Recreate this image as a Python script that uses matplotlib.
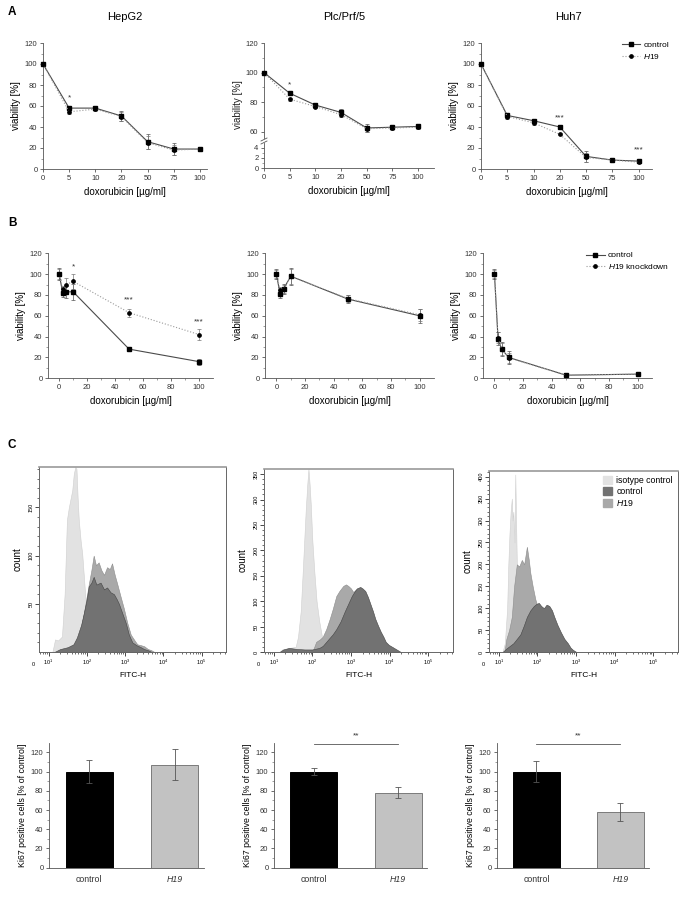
import numpy as np
import matplotlib
matplotlib.use("Agg")
import matplotlib.pyplot as plt
from matplotlib.patches import Patch
from matplotlib.lines import Line2D

plt.rcParams['font.family'] = ['Liberation Sans', 'DejaVu Sans']
plt.rcParams['mathtext.fontset'] = 'custom'
plt.rcParams['mathtext.rm'] = 'Liberation Sans'
plt.rcParams['mathtext.it'] = 'Liberation Sans:italic'
plt.rcParams['axes.linewidth'] = 0.6

# ---- A: viability, H19 overexpression (categorical doses) ----
conc_a = ['0', '5', '10', '20', '50', '75', '100']
hep_ctrl = [100, 58, 58, 50.5, 26, 19, 19]
hep_ctrl_err = [0.5, 2, 2, 5, 7, 6, 1]
hep_h19 = [100, 54.5, 57, 50, 25, 18, 19]
hep_h19_err = [0.5, 2, 2, 4, 6, 5, 1]

plc_ctrl = [100, 86, 78, 73, 62.5, 63, 63.5]
plc_ctrl_err = [0.5, 1, 1.5, 2, 2.5, 1.5, 1.5]
plc_h19 = [100, 82, 77, 71.5, 62, 62.5, 63]
plc_h19_err = [0.5, 1, 1, 1.5, 2, 1.5, 1.5]

huh_ctrl = [100, 51, 46, 40, 12, 8.5, 7.5]
huh_ctrl_err = [0.5, 2, 2, 1, 5, 1, 1.5]
huh_h19 = [100, 50, 44, 33, 11, 8.5, 6.5]
huh_h19_err = [0.5, 2, 2, 1, 4, 1, 1]

# ---- B: viability, H19 knockdown ----
conc_b = [0, 2.5, 5, 10, 50, 100]
hepb_ctrl = [100, 82, 83, 83, 28, 16]
hepb_ctrl_err = [6, 4, 6, 8, 1, 3]
hepb_kd = [100, 86, 90, 93, 63, 42]
hepb_kd_err = [5, 3, 6, 7, 4, 5]

plcb_ctrl = [100, 81, 86, 98, 76, 60]
plcb_ctrl_err = [5, 4, 5, 8, 4, 7]
plcb_kd = [100, 85, 86, 98, 76.5, 61]
plcb_kd_err = [4, 3, 4, 7, 3, 6]

huhb_ctrl = [100, 38, 28, 20, 3, 4]
huhb_ctrl_err = [5, 6, 7, 6, 1, 1]
huhb_kd = [100, 39, 28, 19.5, 3, 4]
huhb_kd_err = [4, 5, 6, 5, 1, 1]

# ---- C: FITC-H histograms (x = log10 intensity, y = count) ----
h1_iso_x = [1.10, 1.17, 1.25, 1.35, 1.42, 1.48, 1.53, 1.57, 1.62, 1.66, 1.70, 1.73, 1.76, 1.79, 1.84, 1.88, 1.92, 1.96, 2.03, 2.10, 2.18, 2.27]
h1_iso_y = [0, 13, 12, 16, 60, 137, 150, 158, 168, 185, 192, 190, 160, 137, 115, 102, 80, 58, 38, 20, 8, 0]
h1_h19_x = [1.70, 1.80, 1.92, 2.00, 2.05, 2.12, 2.18, 2.24, 2.31, 2.38, 2.45, 2.53, 2.60, 2.66, 2.73, 2.80, 2.88, 2.97, 3.06, 3.15, 3.25, 3.32, 3.42, 3.50, 3.60, 3.68, 3.77]
h1_h19_y = [0, 15, 40, 58, 70, 85, 100, 90, 93, 85, 80, 88, 86, 92, 80, 70, 58, 45, 30, 18, 12, 8, 7, 6, 3, 2, 0]
h1_ctl_x = [1.15, 1.30, 1.50, 1.65, 1.74, 1.85, 1.92, 2.00, 2.05, 2.12, 2.18, 2.25, 2.36, 2.45, 2.53, 2.62, 2.71, 2.78, 2.84, 2.93, 3.02, 3.10, 3.19, 3.30, 3.41, 3.50, 3.59, 3.70]
h1_ctl_y = [0, 3, 5, 8, 15, 28, 40, 55, 68, 72, 78, 70, 72, 65, 67, 62, 60, 55, 50, 40, 30, 18, 10, 7, 5, 3, 2, 0]

h2_iso_x = [1.15, 1.22, 1.40, 1.57, 1.63, 1.70, 1.76, 1.83, 1.87, 1.90, 1.93, 1.96, 2.00, 2.05, 2.11, 2.18, 2.25, 2.31, 2.38, 2.45, 2.52]
h2_iso_y = [0, 5, 8, 10, 30, 80, 170, 280, 330, 360, 330, 290, 220, 160, 100, 60, 30, 15, 8, 5, 0]
h2_h19_x = [2.00, 2.10, 2.20, 2.27, 2.36, 2.45, 2.53, 2.62, 2.70, 2.80, 2.87, 2.93, 3.00, 3.06, 3.12, 3.19, 3.26, 3.33, 3.42, 3.50, 3.60, 3.68, 3.77, 3.85, 3.95, 4.03, 4.12, 4.20]
h2_h19_y = [0, 20, 25, 30, 45, 65, 85, 110, 120, 130, 133, 130, 125, 118, 122, 125, 110, 95, 78, 60, 45, 30, 20, 12, 8, 5, 3, 0]
h2_ctl_x = [1.15, 1.25, 1.40, 1.60, 1.80, 2.00, 2.18, 2.27, 2.36, 2.45, 2.53, 2.62, 2.73, 2.84, 2.93, 3.02, 3.10, 3.15, 3.24, 3.30, 3.37, 3.44, 3.50, 3.57, 3.63, 3.70, 3.77, 3.84, 3.90, 3.98, 4.07, 4.18, 4.29]
h2_ctl_y = [0, 5, 8, 6, 5, 5, 8, 12, 20, 28, 35, 45, 60, 80, 95, 110, 120, 125, 128, 125, 120, 108, 95, 80, 65, 52, 40, 30, 20, 14, 10, 5, 0]

h3_iso_x = [1.10, 1.16, 1.19, 1.22, 1.25, 1.28, 1.31, 1.34, 1.36, 1.38, 1.41, 1.43, 1.45, 1.47, 1.51, 1.56, 1.60, 1.65, 1.72, 1.78, 1.85, 1.91]
h3_iso_y = [0, 20, 60, 100, 200, 270, 320, 350, 300, 320, 250, 405, 300, 200, 150, 100, 75, 50, 30, 15, 8, 0]
h3_h19_x = [1.15, 1.20, 1.27, 1.34, 1.40, 1.47, 1.53, 1.60, 1.66, 1.73, 1.78, 1.82, 1.88, 1.95, 2.02, 2.09, 2.17, 2.26, 2.35, 2.44, 2.52, 2.61, 2.75]
h3_h19_y = [0, 30, 50, 80, 150, 200, 195, 210, 200, 240, 210, 180, 150, 120, 100, 80, 60, 40, 25, 15, 10, 5, 0]
h3_ctl_x = [1.10, 1.20, 1.38, 1.56, 1.65, 1.73, 1.82, 1.91, 1.98, 2.04, 2.10, 2.17, 2.24, 2.31, 2.38, 2.44, 2.52, 2.61, 2.70, 2.79, 2.86, 2.92, 3.01]
h3_ctl_y = [0, 8, 20, 40, 60, 80, 95, 105, 110, 112, 105, 100, 108, 105, 95, 80, 62, 45, 30, 20, 10, 5, 0]

# ---- C: Ki67 bars ----
bar_labels = ['control', 'H19']
ki_hep = [100, 107]
ki_hep_err = [12, 16]
ki_plc = [100, 78]
ki_plc_err = [4, 6]
ki_huh = [100, 58]
ki_huh_err = [11, 9]

W, H = 683, 919
fig = plt.figure(figsize=(W / 100, H / 100), dpi=100)


def place(l, t, r, b):
    return fig.add_axes([l / W, 1 - b / H, (r - l) / W, (b - t) / H])


def origin_style(ax):
    for s in ['top', 'right']:
        ax.spines[s].set_visible(False)
    for s in ['left', 'bottom']:
        ax.spines[s].set_color('#555555')
    ax.tick_params(which='major', direction='out', length=2.5, width=0.5,
                   labelsize=5.5, colors='#333333', pad=1.5)
    ax.tick_params(which='minor', direction='out', length=1.5, width=0.4, colors='#555555')


def curves(ax, x, c, ce, t, te):
    ax.errorbar(x, c, yerr=ce, color='#4a4a4a', lw=0.8, ls='-', marker='s', ms=2.8,
                mfc='black', mec='black', ecolor='#555555', elinewidth=0.5,
                capsize=1.3, capthick=0.5, clip_on=False, zorder=3)
    ax.errorbar(x, t, yerr=te, color='#9a9a9a', lw=0.8, ls=':', marker='o', ms=2.4,
                mfc='black', mec='black', ecolor='#777777', elinewidth=0.5,
                capsize=1.3, capthick=0.5, clip_on=False, zorder=3)


def legend_lines(ax, second):
    h = [Line2D([], [], color='#4a4a4a', lw=0.8, marker='s', ms=2.8, mfc='black', mec='black'),
         Line2D([], [], color='#9a9a9a', lw=0.8, ls=':', marker='o', ms=2.4, mfc='black', mec='black')]
    ax.legend(h, ['control', second], loc='upper right', bbox_to_anchor=(1.12, 1.04),
              frameon=False, fontsize=6, handlelength=2.2, handletextpad=0.4,
              labelspacing=0.35, borderaxespad=0)


star_kw = dict(ha='center', va='center', fontsize=6, color='#333333')

# ---------- Row A ----------
idx = np.arange(len(conc_a))
a1 = place(43, 43, 207, 169)
curves(a1, idx, hep_ctrl, hep_ctrl_err, hep_h19, hep_h19_err)
a1.set_xlim(0, 6.27)
a1.set_ylim(0, 120)
a1.set_yticks(range(0, 121, 20))
a1.set_yticks(range(10, 120, 20), minor=True)
a1.set_xticks(idx, conc_a)
origin_style(a1)
a1.set_ylabel('viability [%]', fontsize=7, labelpad=3)
a1.set_xlabel('doxorubicin [µg/ml]', fontsize=7, labelpad=4)
a1.text(1, 68, '*', **star_kw)

# Plc/Prf/5 with broken y axis
a2t = place(264, 43, 434, 138)
a2b = place(264, 143, 434, 168.3)
for ax in (a2t, a2b):
    curves(ax, idx, plc_ctrl, plc_ctrl_err, plc_h19, plc_h19_err)
    ax.set_xlim(0, 6.62)
    origin_style(ax)
a2t.set_ylim(55.7, 120)
a2t.set_yticks(range(60, 121, 20))
a2t.set_yticks(range(70, 120, 20), minor=True)
a2t.spines['bottom'].set_visible(False)
a2t.tick_params(axis='x', which='both', bottom=False, labelbottom=False)
a2b.set_ylim(0, 4.9)
a2b.set_yticks([0, 2, 4])
a2b.set_yticks([1, 3], minor=True)
a2b.set_xticks(idx, conc_a)
for c in a2b.lines + a2b.collections:
    c.set_clip_on(True)
a2b.set_xlabel('doxorubicin [µg/ml]', fontsize=7, labelpad=4)
fig.text(238 / W, 1 - 105 / H, 'viability [%]', rotation=90, fontsize=7,
         ha='center', va='center', color='#222222')
for yb in (139.5, 142.5):
    fig.add_artist(Line2D([261 / W, 267 / W], [1 - (yb + 1.5) / H, 1 - (yb - 1.5) / H],
                          color='#555555', lw=0.6))
a2t.text(1, 91.5, '*', **star_kw)

a3 = place(481, 43, 652, 169)
curves(a3, idx, huh_ctrl, huh_ctrl_err, huh_h19, huh_h19_err)
a3.set_xlim(0, 6.51)
a3.set_ylim(0, 120)
a3.set_yticks(range(0, 121, 20))
a3.set_yticks(range(10, 120, 20), minor=True)
a3.set_xticks(idx, conc_a)
origin_style(a3)
a3.set_ylabel('viability [%]', fontsize=7, labelpad=3)
a3.set_xlabel('doxorubicin [µg/ml]', fontsize=7, labelpad=4)
a3.text(3, 49, '***', **star_kw)
a3.text(6, 18, '***', **star_kw)
legend_lines(a3, r'$\it{H19}$')

fig.text(125 / W, 1 - 17 / H, 'HepG2', fontsize=8, ha='center', va='center')
fig.text(344 / W, 1 - 17 / H, 'Plc/Prf/5', fontsize=8, ha='center', va='center')
fig.text(568 / W, 1 - 17 / H, 'Huh7', fontsize=8, ha='center', va='center')

# ---------- Row B ----------
b_boxes = [(48, 253.3, 213, 378.3), (265, 253.3, 434, 378.3), (483, 253.3, 652, 378.3)]
b_data = [(hepb_ctrl, hepb_ctrl_err, hepb_kd, hepb_kd_err),
          (plcb_ctrl, plcb_ctrl_err, plcb_kd, plcb_kd_err),
          (huhb_ctrl, huhb_ctrl_err, huhb_kd, huhb_kd_err)]
b_axes = []
for box, d in zip(b_boxes, b_data):
    ax = place(*box)
    curves(ax, conc_b, *d)
    ax.set_xlim(-8, 110)
    ax.set_ylim(0, 120)
    ax.set_xticks(range(0, 101, 20))
    ax.set_xticks(range(10, 101, 20), minor=True)
    ax.set_yticks(range(0, 121, 20))
    ax.set_yticks(range(10, 120, 20), minor=True)
    origin_style(ax)
    ax.set_ylabel('viability [%]', fontsize=7, labelpad=3)
    ax.set_xlabel('doxorubicin [µg/ml]', fontsize=7, labelpad=4)
    b_axes.append(ax)
b_axes[0].text(10, 107, '*', **star_kw)
b_axes[0].text(50, 75, '***', **star_kw)
b_axes[0].text(100, 54, '***', **star_kw)
legend_lines(b_axes[2], r'$\it{H19}$ knockdown')

# ---------- Row C: histograms ----------
iso_col, ctl_col, h19_col = '#e2e2e2', '#727272', '#a9a9a9'
h_boxes = [(39, 467, 226, 652), (264, 469, 453, 652), (489, 471, 678, 652)]
h_data = [((h1_iso_x, h1_iso_y), (h1_h19_x, h1_h19_y), (h1_ctl_x, h1_ctl_y)),
          ((h2_iso_x, h2_iso_y), (h2_h19_x, h2_h19_y), (h2_ctl_x, h2_ctl_y)),
          ((h3_iso_x, h3_iso_y), (h3_h19_x, h3_h19_y), (h3_ctl_x, h3_ctl_y))]
h_ylims = [192, 360, 413]
h_major = [(50, 100, 150), range(0, 351, 50), range(0, 401, 50)]
minor_x = [np.log10(k) + d for d in range(0, 6) for k in range(2, 10)]
for box, d, yl, maj in zip(h_boxes, h_data, h_ylims, h_major):
    ax = place(*box)
    (ix, iy), (hx, hy), (cx, cy) = d
    ax.fill_between(ix, iy, facecolor=iso_col, edgecolor='#cfcfcf', lw=0.4)
    ax.fill_between(hx, hy, facecolor=h19_col, edgecolor='#8c8c8c', lw=0.4)
    ax.fill_between(cx, cy, facecolor=ctl_col, edgecolor='#444444', lw=0.4)
    ax.set_xlim(0.75, 5.64)
    ax.set_ylim(0, yl)
    ax.set_xticks(range(1, 6), [r'$10^{%d}$' % k for k in range(1, 6)])
    ax.set_xticks([m for m in minor_x if 0.75 < m < 5.64], minor=True)
    ax.set_yticks(list(maj))
    ax.set_yticks(range(10, yl, 10), minor=True)
    for s in ax.spines.values():
        s.set_color('#666666')
        s.set_linewidth(0.7)
    ax.spines['top'].set_color('#999999')
    ax.spines['top'].set_linewidth(1.2)
    ax.tick_params(which='major', direction='out', length=3, width=0.5, labelsize=4, pad=1)
    ax.tick_params(which='minor', direction='out', length=1.5, width=0.4)
    for lab in ax.get_yticklabels():
        lab.set_rotation(90)
        lab.set_va('center')
    ax.set_ylabel('count', fontsize=7, labelpad=4)
    ax.set_xlabel('FITC-H', fontsize=6, labelpad=4)
    ax.text(-0.03, -0.075, '0', transform=ax.transAxes, fontsize=4, ha='center')
    last_hist = ax
last_hist.legend([Patch(color=iso_col), Patch(color=ctl_col), Patch(color=h19_col)],
                 ['isotype control', 'control', r'$\it{H19}$'], loc='upper right',
                 frameon=False, fontsize=6.3, handlelength=1.0, handleheight=1.0,
                 handletextpad=0.5, labelspacing=0.2, borderaxespad=0.2)

# ---------- Row C: Ki67 bars ----------
k_boxes = [(49, 742.7, 204, 867.7), (274, 742.7, 427, 867.7), (497, 742.7, 649, 867.7)]
k_data = [(ki_hep, ki_hep_err), (ki_plc, ki_plc_err), (ki_huh, ki_huh_err)]
for i, (box, (v, e)) in enumerate(zip(k_boxes, k_data)):
    ax = place(*box)
    ax.bar([0, 1], v, width=0.55, color=['black', '#c2c2c2'],
           edgecolor=['black', '#7a7a7a'], lw=0.7)
    ax.errorbar([0, 1], v, yerr=e, fmt='none', ecolor='#555555', elinewidth=0.6,
                capsize=2.5, capthick=0.6)
    ax.set_xlim(-0.47, 1.34)
    ax.set_ylim(0, 130)
    ax.set_yticks(range(0, 121, 20))
    ax.set_yticks(range(10, 130, 20), minor=True)
    ax.set_xticks([0, 1], bar_labels)
    origin_style(ax)
    ax.tick_params(axis='x', which='both', length=0, pad=5, labelsize=6.3)
    ax.get_xticklabels()[1].set_fontstyle('italic')
    ax.set_ylabel('Ki67 positive cells [% of control]', fontsize=6.3, labelpad=3)
    if i > 0:
        ax.plot([0, 1], [128.5, 128.5], color='#555555', lw=0.6, clip_on=False)
        ax.text(0.5, 137, '**', ha='center', va='center', fontsize=6, color='#333333')

for letter, yy in (('A', 12), ('B', 223), ('C', 445)):
    fig.text(8 / W, 1 - yy / H, letter, fontsize=8.5, fontweight='bold', va='center')

fig.savefig('out.png', dpi=100)
